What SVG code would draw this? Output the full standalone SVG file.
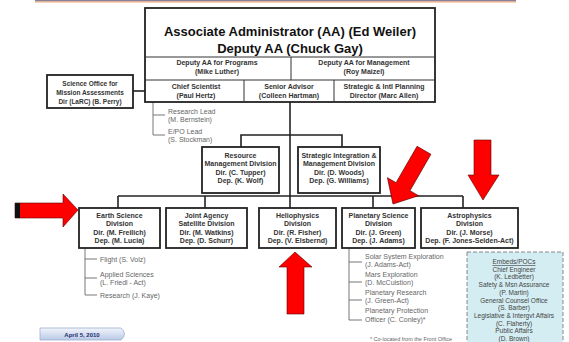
<svg xmlns="http://www.w3.org/2000/svg" width="569" height="342" viewBox="0 0 569 342">
<defs>
<style>
.box{fill:#fff;stroke:#222;stroke-width:1.8}
.in{stroke:#333;stroke-width:1;fill:none}
.con{stroke:#222;stroke-width:1.6;fill:none}
.gl{stroke:#777;stroke-width:1;fill:none}
.t1{font-family:"Liberation Sans",Arial,sans-serif;font-weight:bold;font-size:13px;fill:#111;text-anchor:middle}
.tb{font-family:"Liberation Sans",Arial,sans-serif;font-weight:bold;font-size:7px;fill:#333;text-anchor:middle}
.tg{font-family:"Liberation Sans",Arial,sans-serif;font-size:7px;fill:#666}
.tc{font-family:"Liberation Sans",Arial,sans-serif;font-size:6.5px;fill:#444;text-anchor:middle}
.arr{fill:#ff0000;stroke:#5a0000;stroke-width:0.6}
</style>
<linearGradient id="bg" x1="0" y1="0" x2="0" y2="1">
<stop offset="0" stop-color="#f2f5fb"/>
<stop offset="1" stop-color="#b9c9e6"/>
</linearGradient>
</defs>
<rect width="569" height="342" fill="#fff"/>
<!-- top banner -->
<rect x="35" y="0" width="481" height="1.5" fill="#8a7f9a"/>
<rect x="35" y="1.5" width="481" height="1" fill="#f0a868"/>

<g id="connectors">
<line class="con" x1="133" y1="91" x2="145" y2="91"/>
<line class="con" x1="290" y1="102" x2="290" y2="208"/>
<polyline class="con" points="241,147 241,135 342,135 342,147"/>
<line class="con" x1="118" y1="196" x2="463" y2="196"/>
<line class="con" x1="118" y1="196" x2="118" y2="208"/>
<line class="con" x1="205" y1="196" x2="205" y2="208"/>
<line class="con" x1="373" y1="196" x2="373" y2="208"/>
<line class="con" x1="463" y1="196" x2="463" y2="208"/>
<polyline class="gl" points="153,102 153,135 165,135"/>
<line class="gl" x1="153" y1="115" x2="165" y2="115"/>
<polyline class="gl" points="85,248 85,295 97,295"/>
<line class="gl" x1="85" y1="259" x2="97" y2="259"/>
<line class="gl" x1="85" y1="278" x2="97" y2="278"/>
<polyline class="gl" points="349,248 349,320 362,320"/>
<line class="gl" x1="349" y1="262" x2="362" y2="262"/>
<line class="gl" x1="349" y1="282" x2="362" y2="282"/>
<line class="gl" x1="349" y1="300" x2="362" y2="300"/>
</g>

<g id="aa">
<rect class="box" x="145" y="8" width="290" height="94"/>
<line class="in" x1="145" y1="57" x2="435" y2="57"/>
<line class="in" x1="145" y1="80" x2="435" y2="80"/>
<line class="in" x1="291" y1="57" x2="291" y2="80"/>
<line class="in" x1="244" y1="80" x2="244" y2="102"/>
<line class="in" x1="334" y1="80" x2="334" y2="102"/>
<text class="t1" x="290" y="36">Associate Administrator (AA) (Ed Weiler)</text>
<text class="t1" x="290" y="53">Deputy AA (Chuck Gay)</text>
<text class="tb" x="217" y="65">Deputy AA for Programs</text>
<text class="tb" x="217" y="74">(Mike Luther)</text>
<text class="tb" x="364" y="65">Deputy AA for Management</text>
<text class="tb" x="364" y="74">(Roy Maizel)</text>
<text class="tb" x="196" y="89">Chief Scientist</text>
<text class="tb" x="196" y="98">(Paul Hertz)</text>
<text class="tb" x="289" y="89">Senior Advisor</text>
<text class="tb" x="289" y="98">(Colleen Hartman)</text>
<text class="tb" x="384" y="89">Strategic &amp; Intl Planning</text>
<text class="tb" x="384" y="98">Director (Marc Allen)</text>
</g>

<g id="science-office">
<rect class="box" x="47" y="75" width="86" height="33"/>
<text class="tb" x="90" y="86" style="font-size:6.5px">Science Office for</text>
<text class="tb" x="90" y="95" style="font-size:6.5px">Mission Assessments</text>
<text class="tb" x="90" y="104" style="font-size:6.5px">Dir (LaRC) (B. Perry)</text>
</g>

<g id="leads">
<text class="tg" x="168" y="113.5">Research Lead</text>
<text class="tg" x="168" y="122">(M. Bernstein)</text>
<text class="tg" x="168" y="133.5">E/PO Lead</text>
<text class="tg" x="168" y="142">(S. Stockman)</text>
</g>

<g id="resource">
<rect class="box" x="202" y="147" width="77" height="46"/>
<text class="tb" x="240.5" y="157.5">Resource</text>
<text class="tb" x="240.5" y="166">Management Division</text>
<text class="tb" x="240.5" y="174.5">Dir. (C. Tupper)</text>
<text class="tb" x="240.5" y="183">Dep. (K. Wolf)</text>
</g>

<g id="strategic">
<rect class="box" x="298" y="147" width="82" height="46"/>
<text class="tb" x="339" y="157.5">Strategic Integration &amp;</text>
<text class="tb" x="339" y="166">Management Division</text>
<text class="tb" x="339" y="174.5">Dir. (D. Woods)</text>
<text class="tb" x="339" y="183">Dep. (G. Williams)</text>
</g>

<g id="earth">
<rect class="box" x="79" y="208" width="81" height="40"/>
<text class="tb" x="119.5" y="217.5">Earth Science</text>
<text class="tb" x="119.5" y="226">Division</text>
<text class="tb" x="119.5" y="234.5">Dir. (M. Freilich)</text>
<text class="tb" x="119.5" y="243">Dep. (M. Lucia)</text>
</g>

<g id="joint">
<rect class="box" x="166" y="208" width="81" height="40"/>
<text class="tb" x="206.5" y="217.5">Joint Agency</text>
<text class="tb" x="206.5" y="226">Satellite Division</text>
<text class="tb" x="206.5" y="234.5">Dir. (M. Watkins)</text>
<text class="tb" x="206.5" y="243">Dep. (D. Schurr)</text>
</g>

<g id="helio">
<rect class="box" x="259" y="208" width="77" height="40"/>
<text class="tb" x="297.5" y="217.5">Heliophysics</text>
<text class="tb" x="297.5" y="226">Division</text>
<text class="tb" x="297.5" y="234.5">Dir. (R. Fisher)</text>
<text class="tb" x="297.5" y="243">Dep. (V. Elsbernd)</text>
</g>

<g id="planetary">
<rect class="box" x="342" y="208" width="73" height="40"/>
<text class="tb" x="378.5" y="217.5">Planetary Science</text>
<text class="tb" x="378.5" y="226">Division</text>
<text class="tb" x="378.5" y="234.5">Dir. (J. Green)</text>
<text class="tb" x="378.5" y="243">Dep. (J. Adams)</text>
</g>

<g id="astro">
<rect class="box" x="421" y="208" width="97" height="40"/>
<text class="tb" x="469.5" y="217.5">Astrophysics</text>
<text class="tb" x="469.5" y="226">Division</text>
<text class="tb" x="469.5" y="234.5">Dir. (J. Morse)</text>
<text class="tb" x="469.5" y="243">Dep. (F. Jones-Selden-Act)</text>
</g>

<g id="earth-sub">
<text class="tg" x="100" y="261.5">Flight (S. Volz)</text>
<text class="tg" x="100" y="276.5">Applied Sciences</text>
<text class="tg" x="100" y="285">(L. Friedl - Act)</text>
<text class="tg" x="100" y="297.5">Research (J. Kaye)</text>
</g>

<g id="planetary-sub">
<text class="tg" x="365" y="258.5">Solar System Exploration</text>
<text class="tg" x="365" y="266.5">(J. Adams-Act)</text>
<text class="tg" x="365" y="276.5">Mars Exploration</text>
<text class="tg" x="365" y="285">(D. McCuistion)</text>
<text class="tg" x="365" y="294.5">Planetary Research</text>
<text class="tg" x="365" y="303">(J. Green-Act)</text>
<text class="tg" x="365" y="313">Planetary Protection</text>
<text class="tg" x="365" y="321.5">Officer (C. Conley)*</text>
<text class="tg" x="411" y="341" style="font-size:5.5px;text-anchor:middle">* Co-located from the Front Office</text>
</g>

<g id="embeds">
<rect x="467" y="252" width="96" height="95" fill="#d4edf2" stroke="#888" stroke-width="1" stroke-dasharray="4,2"/>
<text class="tc" x="514" y="264" text-decoration="underline">Embeds/POCs</text>
<text class="tc" x="514" y="271.7">Chief Engineer</text>
<text class="tc" x="514" y="279.4">(K. Ledbetter)</text>
<text class="tc" x="514" y="287.1">Safety &amp; Msn Assurance</text>
<text class="tc" x="514" y="294.8">(P. Martin)</text>
<text class="tc" x="514" y="302.5">General Counsel Office</text>
<text class="tc" x="514" y="310.2">(S. Barber)</text>
<text class="tc" x="514" y="317.9">Legislative &amp; Intergvt Affairs</text>
<text class="tc" x="514" y="325.6">(C. Flaherty)</text>
<text class="tc" x="514" y="333.3">Public Affairs</text>
<text class="tc" x="514" y="341">(D. Brown)</text>
</g>

<g id="date">
<path d="M40,328 H121 Q128,334 121,340 H40 Z" fill="url(#bg)" stroke="#9fb0d0" stroke-width="0.8"/>
<text x="82" y="336.5" style="font-family:'Liberation Sans',Arial,sans-serif;font-weight:bold;font-size:6px;fill:#1c2e6e;text-anchor:middle">April 5, 2010</text>
</g>

<g id="arrows">
<polygon class="arr" points="15,203 63,203 63,194 78,210 63,227 63,218 15,218"/>
<rect x="15" y="203" width="5" height="15" fill="#111"/>
<polygon class="arr" points="295,252 312,267 304,267 304,314 287,314 287,267 279,267"/>
<polygon class="arr" points="483,200 499,175 491,175 491,140 474,140 474,175 468,175"/>
<polygon class="arr" transform="translate(393,204) rotate(30)" points="0,0 -18,-20 -8,-20 -8,-62 8,-62 8,-20 18,-20"/>
</g>
</svg>
